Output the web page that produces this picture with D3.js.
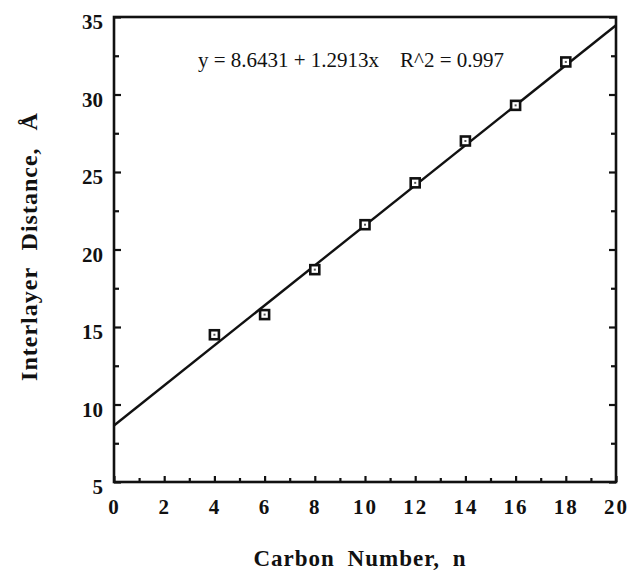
<!DOCTYPE html>
<html>
<head>
<meta charset="utf-8">
<script src="https://cdn.jsdelivr.net/npm/d3@7"></script>
<style>
  body { margin: 0; background: #fff; }
  svg { display: block; }
  .tick text { font-family: "Liberation Serif", "Times New Roman", serif; font-weight: bold; font-size: 21px; fill: #111; }
  .tick line { stroke: #111; stroke-width: 2.2px; }
</style>
</head>
<body>
<div id="chart"></div>
<script>
var carbonNumber = [4, 6, 8, 10, 12, 14, 16, 18];
var interlayerDist = [14.5, 15.8, 18.7, 21.6, 24.3, 27.0, 29.3, 32.1];
// fit line given on the chart
var fitIntercept = 8.6431;
var fitSlope = 1.2913;
var fitLabel = "y = 8.6431 + 1.2913x    R^2 = 0.997";
var xTicks = [0, 2, 4, 6, 8, 10, 12, 14, 16, 18, 20];
var yTicks = [5, 10, 15, 20, 25, 30, 35];

var width = 631, height = 570;
var margin = { left: 114, right: 15, top: 17, bottom: 88 };
var plotW = width - margin.left - margin.right;
var plotH = height - margin.top - margin.bottom;

var svg = d3.select("#chart").append("svg")
  .attr("width", width)
  .attr("height", height);

var x = d3.scaleLinear().domain([0, 20]).range([0, plotW]);
var y = d3.scaleLinear().domain([5, 35]).range([plotH, 0]);

var g = svg.append("g").attr("transform", "translate(" + margin.left + "," + margin.top + ")");

// minor ticks first (no labels)
var minorX = d3.range(1, 20, 2);
var minorY = d3.range(7.5, 35, 5);

g.append("g").attr("transform", "translate(0," + plotH + ")")
  .call(d3.axisBottom(x).tickValues(minorX).tickSize(-4).tickFormat(""))
  .call(function (s) { s.select(".domain").remove(); });
g.append("g")
  .call(d3.axisLeft(y).tickValues(minorY).tickSize(-5).tickFormat(""))
  .call(function (s) { s.select(".domain").remove(); });
g.append("g").attr("transform", "translate(" + plotW + ",0)")
  .call(d3.axisRight(y).tickValues(minorY).tickSize(-5).tickFormat(""))
  .call(function (s) { s.select(".domain").remove(); });

// major ticks
var xAxis = g.append("g").attr("transform", "translate(0," + plotH + ")")
  .call(d3.axisBottom(x).tickValues(xTicks).tickSize(-6).tickPadding(17).tickFormat(d3.format("d")));
xAxis.select(".domain").remove();
xAxis.selectAll("text").attr("letter-spacing", "2px");

var yAxis = g.append("g")
  .call(d3.axisLeft(y).tickValues(yTicks).tickSize(-7).tickPadding(11).tickFormat(d3.format("d")));
yAxis.select(".domain").remove();
yAxis.selectAll("text").attr("dy", "0.55em");

g.append("g").attr("transform", "translate(" + plotW + ",0)")
  .call(d3.axisRight(y).tickValues(yTicks).tickSize(-7).tickFormat(""))
  .call(function (s) { s.select(".domain").remove(); });

// frame
g.append("rect")
  .attr("x", 0).attr("y", 0)
  .attr("width", plotW).attr("height", plotH)
  .attr("fill", "none")
  .attr("stroke", "#111")
  .attr("stroke-width", 2.6);

// regression line
var fitLine = d3.line()
  .x(function (d) { return x(d); })
  .y(function (d) { return y(fitIntercept + fitSlope * d); });
g.append("path")
  .datum([0, 20])
  .attr("d", fitLine)
  .attr("fill", "none")
  .attr("stroke", "#111")
  .attr("stroke-width", 2.4);

// markers: open squares with a small dot inside
var pts = g.selectAll(".pt").data(carbonNumber).enter().append("g")
  .attr("class", "pt")
  .attr("transform", function (d, i) { return "translate(" + x(d) + "," + y(interlayerDist[i]) + ")"; });
pts.append("rect")
  .attr("x", -4.5).attr("y", -4.5)
  .attr("width", 9).attr("height", 9)
  .attr("fill", "#fff")
  .attr("stroke", "#111")
  .attr("stroke-width", 2.6);
pts.append("rect")
  .attr("x", -1).attr("y", -1)
  .attr("width", 2).attr("height", 2)
  .attr("fill", "#555");

// equation text
g.append("text")
  .attr("x", x(10) - 14)
  .attr("y", 50)
  .attr("text-anchor", "middle")
  .attr("font-family", "Liberation Serif, Times New Roman, serif")
  .attr("font-size", "21px")
  .attr("fill", "#111")
  .style("white-space", "pre")
  .text(fitLabel);

// axis titles
svg.append("text")
  .attr("x", margin.left + plotW / 2 - 5)
  .attr("y", 566)
  .attr("text-anchor", "middle")
  .attr("font-family", "Liberation Serif, Times New Roman, serif")
  .attr("font-weight", "bold")
  .attr("font-size", "23px")
  .attr("letter-spacing", "1px")
  .attr("word-spacing", "6px")
  .attr("fill", "#111")
  .text("Carbon Number, n");

svg.append("text")
  .attr("transform", "translate(37," + (margin.top + plotH / 2 - 3) + ") rotate(-90)")
  .attr("text-anchor", "middle")
  .attr("font-family", "Liberation Serif, Times New Roman, serif")
  .attr("font-weight", "bold")
  .attr("font-size", "24px")
  .attr("letter-spacing", "1px")
  .attr("word-spacing", "10px")
  .attr("fill", "#111")
  .text("Interlayer Distance, Å");
</script>
</body>
</html>
